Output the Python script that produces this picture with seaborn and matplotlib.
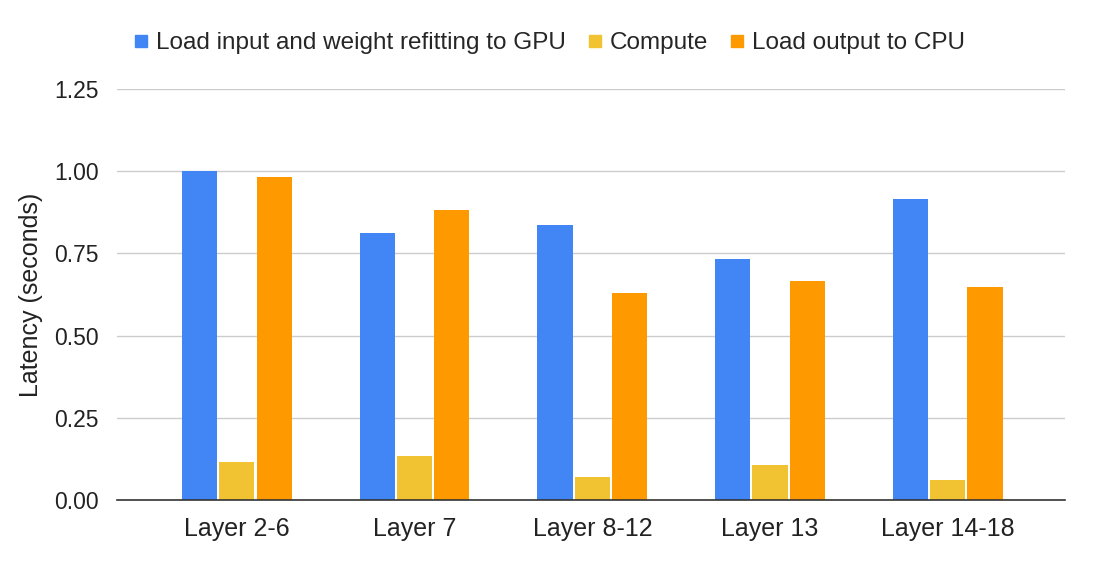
import matplotlib
matplotlib.use("Agg")
import matplotlib.pyplot as plt
import seaborn as sns
import pandas as pd
from matplotlib.lines import Line2D

categories = ["Layer 2-6", "Layer 7", "Layer 8-12", "Layer 13", "Layer 14-18"]
series_names = ["Load input and weight refitting to GPU", "Compute", "Load output to CPU"]
load_input = [1.00, 0.812, 0.836, 0.733, 0.915]
compute = [0.116, 0.134, 0.070, 0.106, 0.061]
load_output = [0.982, 0.882, 0.630, 0.666, 0.648]
colors = ["#4285F4", "#F1C232", "#FF9900"]
y_ticks = [0.00, 0.25, 0.50, 0.75, 1.00, 1.25]

rows = []
for name, vals in zip(series_names, [load_input, compute, load_output]):
    for c, v in zip(categories, vals):
        rows.append({"Layer": c, "Series": name, "Latency": v})
df = pd.DataFrame(rows)

sns.set_theme(style="white")
plt.rcParams['font.family'] = ['Liberation Sans', 'DejaVu Sans']

fig = plt.figure(figsize=(10.95, 5.72), dpi=100)
ax = fig.add_axes([117/1095, 72/572, (1065-117)/1095, (500-89)/572])

sns.barplot(data=df, x="Layer", y="Latency", hue="Series", hue_order=series_names,
            order=categories, palette=colors, width=0.63, gap=0.06, ax=ax,
            legend=False, saturation=1, linewidth=0)

ax.set_ylim(0, 1.25)
ax.set_xlim(-0.675, 4.66)
ax.set_yticks(y_ticks)
ax.set_yticklabels([f"{t:.2f}" for t in y_ticks], fontsize=16.5, color="#222222")
ax.tick_params(axis='x', labelsize=18, colors="#222222", length=0, pad=12)
ax.tick_params(axis='y', length=0, pad=13)
ax.set_xlabel("")
ax.set_ylabel("Latency (seconds)", fontsize=18, color="#222222", labelpad=8)
ax.yaxis.grid(True, color="#CCCCCC", linewidth=1)
ax.set_axisbelow(True)
for s in ["left", "right", "top"]:
    ax.spines[s].set_visible(False)
ax.spines["bottom"].set_color("#333333")
ax.spines["bottom"].set_linewidth(1.2)

handles = [Line2D([0], [0], marker='s', linestyle='', markersize=9,
                  markerfacecolor=c, markeredgecolor=c) for c in colors]
fig.legend(handles, series_names, loc="center", bbox_to_anchor=(547/1095, 1-43/572),
           ncol=3, frameon=False, fontsize=17.5, handletextpad=0.1, columnspacing=0.7,
           handlelength=1.0)

fig.savefig("out.png", dpi=100)
